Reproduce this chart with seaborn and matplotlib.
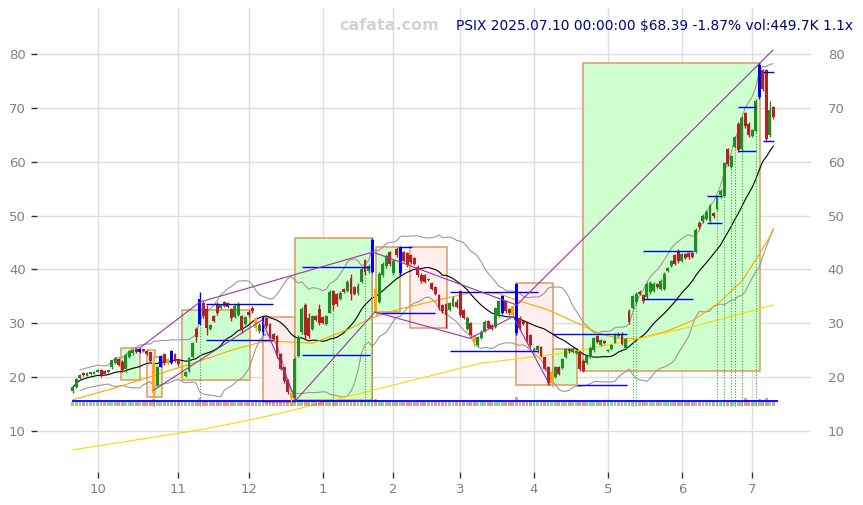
import numpy as np
import pandas as pd
import seaborn as sns
import matplotlib.pyplot as plt
from matplotlib.patches import Rectangle

# ---- data -------------------------------------------------------------
holidays = ['2024-11-28', '2024-12-25', '2025-01-01', '2025-01-09', '2025-01-20',
            '2025-02-17', '2025-04-18', '2025-05-26', '2025-06-19', '2025-07-04']

opens = [17.4, 18.2, 19.9, 20.7, 20.3, 20.5, 20.6, 21.0, 21.4, 21.2,
         20.9, 21.8, 22.7, 23.4, 22.8, 21.5, 23.8, 24.4, 25.3, 24.7,
         25.2, 24.9, 24.6, 22.6, 18.6, 21.9, 24.3, 23.3, 22.6, 24.3,
         23.2, 22.0, 20.2, 21.2, 23.8, 29.0, 29.8, 33.8, 32.6, 29.0,
         31.4, 33.6, 32.9, 33.9, 33.7, 32.6, 31.1, 31.6, 31.4, 29.8,
         32.1, 32.9, 30.9, 28.5, 28.4, 30.9, 29.8, 28.0, 27.6, 24.3,
         21.8, 19.5, 17.0, 16.2, 24.0, 28.3, 33.4, 31.0, 29.0, 31.4,
         32.6, 31.2, 29.9, 32.0, 36.0, 35.4, 34.5, 36.4, 36.0, 38.4,
         36.8, 35.6, 37.6, 41.8, 39.7, 39.6, 36.4, 34.0, 39.0, 40.6,
         43.2, 39.3, 43.8, 39.4, 43.3, 43.0, 42.6, 42.2, 40.5, 39.0,
         38.9, 38.0, 37.4, 36.8, 35.3, 33.4, 33.6, 32.5, 33.2, 34.0,
         36.0, 32.4, 29.0, 30.0, 27.8, 25.9, 27.2, 28.5, 30.5, 29.6,
         29.3, 31.4, 32.0, 34.2, 32.6, 33.2, 37.3, 31.0, 30.4, 30.0,
         27.8, 24.8, 25.0, 25.6, 23.7, 21.9, 18.9, 20.0, 21.9, 21.7,
         23.7, 25.3, 24.6, 24.5, 24.6, 23.0, 22.6, 23.8, 25.0, 27.7,
         26.0, 26.7, 24.9, 25.3, 26.4, 27.6, 28.1, 25.4, 32.3, 32.9,
         34.0, 35.8, 35.3, 34.8, 35.8, 36.0, 37.3, 36.3, 36.4, 39.8,
         40.6, 42.6, 43.5, 41.6, 42.9, 43.0, 43.1, 43.3, 48.7, 48.9,
         49.4, 49.0, 50.5, 51.2, 53.8, 53.6, 62.4, 59.0, 62.8, 67.0,
         62.4, 69.0, 67.0, 64.8, 65.7, 72.0, 77.0, 77.0, 65.0, 70.2]

highs = [18.4, 19.9, 20.6, 20.9, 20.9, 21.0, 21.1, 21.6, 21.6, 21.3,
         21.4, 23.2, 23.8, 23.6, 23.2, 24.5, 25.0, 25.2, 25.4, 25.4,
         25.3, 25.0, 24.7, 22.9, 22.0, 24.2, 24.5, 23.5, 25.0, 24.5,
         23.4, 22.3, 21.2, 23.8, 26.6, 29.4, 35.9, 34.2, 33.4, 29.9,
         31.6, 33.9, 33.6, 34.1, 33.9, 32.8, 33.6, 33.9, 31.6, 31.4,
         32.5, 33.2, 31.2, 30.0, 31.3, 31.1, 30.0, 28.2, 27.8, 24.5,
         21.9, 19.7, 17.3, 23.7, 27.8, 33.0, 33.8, 31.9, 31.6, 31.6,
         33.6, 31.4, 31.6, 36.2, 36.2, 35.6, 36.0, 36.6, 38.0, 39.2,
         37.0, 37.4, 40.4, 42.0, 41.0, 45.8, 36.6, 39.5, 41.4, 42.8,
         43.5, 41.9, 44.1, 44.3, 43.5, 43.2, 42.9, 42.4, 40.8, 39.4,
         39.1, 38.4, 37.6, 37.0, 35.5, 33.6, 33.8, 34.0, 35.0, 34.5,
         36.2, 32.7, 31.3, 30.2, 28.0, 27.6, 28.7, 30.6, 30.7, 29.8,
         33.1, 34.4, 35.3, 34.4, 32.8, 33.4, 37.5, 31.3, 30.6, 30.1,
         28.0, 25.6, 25.9, 25.8, 23.8, 22.0, 21.3, 22.0, 22.0, 23.6,
         25.4, 25.5, 25.6, 25.0, 24.8, 23.3, 24.1, 25.7, 27.4, 27.9,
         27.1, 26.9, 25.3, 26.2, 28.2, 28.3, 28.3, 27.3, 32.6, 35.3,
         35.8, 36.1, 35.5, 37.6, 37.8, 37.6, 37.5, 38.2, 39.5, 40.4,
         41.8, 42.9, 43.8, 43.0, 43.1, 43.2, 43.3, 47.7, 48.9, 50.2,
         51.0, 52.1, 50.7, 53.9, 55.0, 60.0, 62.6, 61.3, 64.7, 67.3,
         68.4, 69.3, 67.3, 66.1, 71.6, 78.4, 77.2, 77.2, 71.2, 70.3]

lows = [17.1, 18.0, 19.7, 20.2, 20.2, 20.4, 20.5, 20.9, 20.1, 20.5,
        20.7, 21.6, 22.5, 22.1, 21.0, 21.0, 23.6, 24.2, 24.4, 24.5,
        24.6, 24.1, 22.8, 16.2, 18.4, 21.8, 22.2, 22.3, 22.4, 22.8,
        22.1, 19.7, 20.0, 21.0, 23.6, 26.5, 29.6, 31.0, 27.8, 28.7,
        30.2, 31.5, 32.6, 33.1, 32.9, 30.5, 30.9, 31.3, 28.2, 29.6,
        31.2, 32.0, 28.6, 28.2, 27.8, 29.2, 27.2, 26.9, 23.5, 21.3,
        18.9, 16.8, 15.4, 15.8, 23.8, 28.0, 26.9, 27.2, 28.8, 30.5,
        29.6, 29.8, 29.7, 31.9, 32.5, 33.2, 34.3, 35.6, 35.8, 34.4,
        35.2, 35.2, 37.4, 39.0, 39.4, 39.3, 31.3, 33.8, 38.6, 40.3,
        40.6, 39.0, 42.4, 39.0, 41.4, 40.5, 41.0, 40.8, 38.6, 37.4,
        37.4, 37.9, 36.1, 35.2, 32.4, 32.0, 29.1, 32.3, 33.0, 32.8,
        31.2, 30.8, 28.7, 27.6, 25.8, 25.7, 27.0, 28.3, 28.9, 28.8,
        29.1, 31.2, 31.8, 31.9, 31.6, 31.1, 27.8, 28.8, 29.6, 26.5,
        25.6, 24.6, 24.4, 23.7, 21.3, 18.5, 18.2, 19.8, 20.4, 21.5,
        23.5, 24.5, 24.4, 24.3, 21.2, 21.0, 22.4, 23.6, 24.7, 26.3,
        25.8, 26.2, 24.7, 25.1, 26.3, 27.4, 25.9, 25.2, 29.9, 32.7,
        33.6, 35.2, 33.8, 34.6, 35.5, 35.9, 36.6, 36.1, 36.2, 39.6,
        40.4, 40.8, 41.2, 41.4, 41.9, 42.0, 42.1, 43.1, 47.6, 48.6,
        49.1, 48.6, 49.6, 51.0, 53.2, 53.4, 59.2, 58.8, 62.6, 61.8,
        62.0, 66.3, 64.5, 64.5, 65.5, 71.7, 73.2, 63.6, 64.6, 68.0]

closes = [18.1, 19.7, 20.4, 20.4, 20.7, 20.9, 21.0, 21.4, 20.4, 20.6,
          21.3, 23.1, 23.6, 22.3, 21.4, 24.2, 24.9, 25.0, 24.6, 25.3,
          24.8, 24.3, 23.0, 17.0, 21.8, 24.0, 22.6, 22.6, 24.9, 23.0,
          22.4, 20.1, 21.0, 23.5, 26.3, 27.5, 34.5, 31.4, 29.2, 29.6,
          30.4, 31.9, 33.4, 33.3, 33.1, 30.9, 33.3, 33.5, 28.8, 31.2,
          31.5, 32.2, 29.1, 29.7, 31.0, 29.5, 27.6, 27.1, 24.0, 21.6,
          19.3, 17.3, 16.1, 23.3, 27.5, 32.6, 27.8, 27.6, 31.4, 30.7,
          30.0, 30.1, 31.4, 35.8, 33.4, 33.6, 35.7, 35.8, 37.7, 35.4,
          35.4, 37.0, 40.1, 39.6, 40.6, 45.5, 32.0, 39.2, 41.1, 42.5,
          41.0, 41.6, 42.7, 44.1, 41.6, 40.8, 41.4, 41.0, 38.9, 37.8,
          37.6, 38.2, 36.4, 35.5, 32.8, 32.3, 31.5, 33.8, 34.7, 33.1,
          31.6, 31.0, 31.0, 27.9, 26.5, 27.4, 28.4, 30.3, 29.2, 29.0,
          32.8, 34.1, 35.0, 32.2, 31.9, 31.5, 28.2, 29.2, 29.9, 26.9,
          25.9, 25.3, 25.7, 24.0, 21.6, 18.9, 21.0, 21.8, 20.6, 23.4,
          25.2, 24.8, 25.3, 24.8, 21.5, 21.2, 23.9, 25.5, 27.2, 26.6,
          26.9, 26.4, 25.1, 26.0, 28.0, 28.1, 26.2, 27.1, 30.2, 35.0,
          35.5, 35.4, 34.1, 37.3, 37.5, 37.3, 36.8, 37.9, 39.2, 40.2,
          41.6, 41.1, 41.5, 42.8, 42.2, 42.3, 42.4, 47.3, 47.9, 50.0,
          50.6, 51.8, 49.9, 53.6, 54.6, 59.7, 59.6, 61.0, 64.5, 62.2,
          68.1, 66.7, 64.9, 65.8, 71.3, 78.0, 73.5, 64.2, 69.69, 68.39]

volumes = [380, 420, 400, 350, 360, 340, 330, 380, 410, 360, 340, 450, 420, 390, 400, 470, 430, 380, 360, 520,
           370, 380, 420, 610, 480, 520, 400, 430, 520, 410, 390, 450, 380, 420, 480, 560, 720, 520, 500, 420,
           380, 410, 360, 350, 340, 400, 380, 370, 430, 360, 340, 330, 420, 380, 510, 400, 420, 380, 460, 470,
           450, 440, 520, 590, 540, 520, 460, 410, 420, 400, 380, 390, 380, 480, 450, 410, 390, 420, 430, 400,
           380, 420, 460, 450, 420, 640, 610, 540, 480, 450, 430, 440, 410, 520, 400, 380, 370, 360, 390, 380,
           370, 340, 360, 380, 420, 400, 410, 380, 370, 390, 450, 400, 410, 380, 440, 420, 390, 380, 370, 350,
           400, 410, 530, 380, 370, 440, 780, 480, 430, 440, 420, 400, 410, 450, 480, 520, 540, 470, 420, 440,
           420, 400, 380, 370, 430, 410, 390, 400, 420, 380, 370, 360, 350, 370, 380, 360, 380, 370, 520, 470,
           400, 390, 430, 410, 380, 370, 390, 420, 410, 430, 400, 410, 390, 380, 370, 360, 380, 480, 430, 420,
           410, 440, 400, 450, 430, 520, 470, 450, 480, 500, 460, 720, 520, 440, 480, 610, 560, 740, 480, 449.7]

blue_days = [19, 25, 28, 36, 54, 85, 93, 122, 126, 195]
orange_days = [23, 27, 31, 52, 62, 86, 114, 125, 136]
signal_days = [36, 74, 83, 85, 159, 160, 183, 185, 187, 188, 190, 194]

# trend boxes: start, end, low, high, direction
box_start = [13.8, 21.1, 23.1, 31.1, 54.1, 63.1, 86.1, 95.9, 126.0, 136.3, 144.9]
box_end = [19.2, 23.3, 25.2, 50.3, 63.1, 85.0, 92.9, 106.2, 136.3, 143.1, 195.2]
box_low = [19.47, 16.37, 16.37, 19.47, 15.44, 15.76, 32.1, 29.1, 18.54, 18.54, 21.14]
box_high = [25.35, 25.04, 23.7, 32.47, 31.1, 45.8, 44.16, 44.16, 37.4, 25.16, 78.3]
box_up = [True, False, True, True, False, True, True, False, False, True, True]

# support / resistance levels
level_start = [37.8, 37.8, 65, 65, 86.3, 93, 107.1, 107.1, 136, 143.1, 162, 162,
               180.2, 180.2, 189, 189, 196.1, 196.1]
level_end = [56.9, 56.9, 84.4, 84.4, 102.8, 96.2, 132.2, 132.2, 157.3, 157.3, 176.2, 176.2,
             184.3, 184.3, 194.2, 194.2, 199.2, 199.2]
level_value = [33.5, 26.9, 40.5, 24.1, 32.0, 44.2, 35.86, 24.85, 27.95, 18.54, 43.42, 34.44,
               53.63, 48.56, 70.2, 62.0, 76.7, 63.84]

# zigzag pivot lines
zz_x0 = [19.0, 36.1, 23.0, 53.7, 63.4, 85.2, 85.8, 112.8, 125.1, 126.1]
zz_y0 = [25.41, 33.95, 17.61, 30.61, 15.76, 43.23, 32.1, 27.21, 31.22, 33.39]
zz_x1 = [36.1, 85.2, 53.7, 63.4, 85.8, 126.1, 112.8, 125.1, 135.5, 198.9]
zz_y1 = [33.95, 43.23, 30.61, 15.76, 32.1, 33.39, 27.21, 31.22, 18.54, 80.74]

# long moving averages (index, value)
ma50_idx = [0, 12, 24, 36, 45, 54, 59, 68, 78, 85, 92, 101, 109, 114, 121, 127,
            135, 140, 150, 155, 161, 169, 176, 183, 190, 195, 199]
ma50_val = [15.8, 18.0, 20.5, 23.0, 25.0, 26.6, 26.6, 26.3, 28.8, 31.0, 32.5, 33.9, 35.1, 35.8,
            35.5, 34.1, 32.5, 31.0, 28.0, 27.2, 27.2, 28.6, 30.5, 33.5, 37.8, 42.8, 47.2]
ma200_idx = [0, 36, 50, 59, 78, 97, 116, 135, 144, 159, 178, 199]
ma200_val = [6.5, 10.2, 12.0, 13.3, 16.4, 19.5, 22.6, 24.1, 24.9, 26.9, 29.7, 33.4]

# ---- build frame ------------------------------------------------------
dates = pd.bdate_range('2024-09-20', '2025-07-10')
dates = dates[~dates.isin(pd.to_datetime(holidays))]
df = pd.DataFrame({'open': opens, 'high': highs, 'low': lows, 'close': closes,
                   'vol': volumes}, index=dates)
df['i'] = np.arange(len(df))
df['ma20'] = df['close'].rolling(20, min_periods=1).mean()
sd = df['close'].rolling(20, min_periods=3).std(ddof=0)
df['bb_up'] = df['ma20'] + 2 * sd
df['bb_dn'] = df['ma20'] - 2 * sd

up = df['close'] >= df['open']
colors = np.where(up, '#228b22', '#b22222').astype(object)
colors[blue_days] = '#0000ff'
colors[orange_days] = '#ffa500'

# ---- plot -------------------------------------------------------------
sns.set_style('white')
fig = plt.figure(figsize=(8.63, 5.05), dpi=100)
ax = fig.add_axes([37 / 863, 33 / 505, 774 / 863, 464 / 505])
ax.set_xlim(-10.2, 209.7)
ax.set_ylim(2.39, 88.54)

# trend boxes
for s, e, lo, hi, u in zip(box_start, box_end, box_low, box_high, box_up):
    ax.add_patch(Rectangle((s, lo), e - s, hi - lo, facecolor='#ccffcc' if u else '#ffeeee',
                           edgecolor='#dc965a', lw=1.1, alpha=0.95, zorder=1))

# moving averages
sns.lineplot(x=df['i'], y=df['bb_up'], ax=ax, color='#999999', lw=0.8, zorder=2)
sns.lineplot(x=df['i'], y=df['bb_dn'], ax=ax, color='#999999', lw=0.8, zorder=2)
sns.lineplot(x=df['i'], y=df['ma20'], ax=ax, color='black', lw=0.8, zorder=2)
sns.lineplot(x=ma50_idx, y=ma50_val, ax=ax, color='#ffa500', lw=0.8, zorder=2)
sns.lineplot(x=ma200_idx, y=ma200_val, ax=ax, color='#ffd700', lw=0.8, zorder=2)

# volume strip
vbase = 14.73
vscale = 0.8 / 410
vcol = np.where(up, '#228b22', '#b22222')
ax.bar(df['i'], df['vol'] * vscale, bottom=vbase, width=0.8, color=vcol, alpha=0.45,
       lw=0, zorder=2)
ax.hlines(vbase + df['vol'].mean() * vscale, -0.3, 200.2, color='#0000ff', lw=1.3, zorder=3)

# signal verticals
for d in signal_days:
    ax.vlines(d, vbase, df['low'].iloc[d], color='#33aa33', lw=0.8,
              linestyles=(0, (1, 1.5)), zorder=2)
ax.vlines(23, vbase, df['low'].iloc[23], color='#cc3333', lw=0.8,
          linestyles=(0, (1, 1.5)), zorder=2)

# candles
ax.vlines(df['i'], df['low'], df['high'], color=colors, lw=1, zorder=3)
body = (df['close'] - df['open']).abs().clip(lower=0.15)
ax.bar(df['i'], body, bottom=df[['open', 'close']].min(axis=1), width=0.82,
       color=colors, lw=0, zorder=3)

# levels and zigzag
ax.hlines(level_value, level_start, level_end, color='#0000ff', lw=1.0, zorder=4)
for x0, y0, x1, y1 in zip(zz_x0, zz_y0, zz_x1, zz_y1):
    ax.plot([x0, x1], [y0, y1], color='#9933aa', lw=0.8, zorder=4)

# axes cosmetics
month_start = np.r_[False, df.index.month[1:] != df.index.month[:-1]]
xt = df['i'][month_start].values
ax.set_xticks(xt)
ax.set_xticklabels([str(m) for m in df.index[month_start].month])
ax.set_yticks(range(10, 90, 10))
ax.grid(True, color='#dddddd', lw=1)
ax.set_axisbelow(True)
for sp in ax.spines.values():
    sp.set_visible(False)
ax.tick_params(axis='both', direction='out', length=4, width=1, color='#333333',
               labelcolor='#808080', labelsize=9.5, pad=4)
ax.tick_params(axis='x', bottom=True)
ax.tick_params(axis='y', left=True)
ax.set_xlabel('')
ax.set_ylabel('')

ax2 = ax.twinx()
ax2.set_ylim(ax.get_ylim())
ax2.set_yticks(range(10, 90, 10))
ax2.tick_params(axis='y', length=0, labelcolor='#808080', labelsize=9.5, pad=12)
for sp in ax2.spines.values():
    sp.set_visible(False)

fig.text(389 / 863, 1 - 26 / 505, 'cafata.com', color='#d3d3d3', fontsize=11.5,
         fontweight='bold', ha='center', va='center')
fig.text(853 / 863, 1 - 26 / 505, 'PSIX 2025.07.10 00:00:00 $68.39 -1.87% vol:449.7K 1.1x',
         color='#000080', fontsize=9.9, ha='right', va='center')

fig.savefig('out.png', dpi=100)
